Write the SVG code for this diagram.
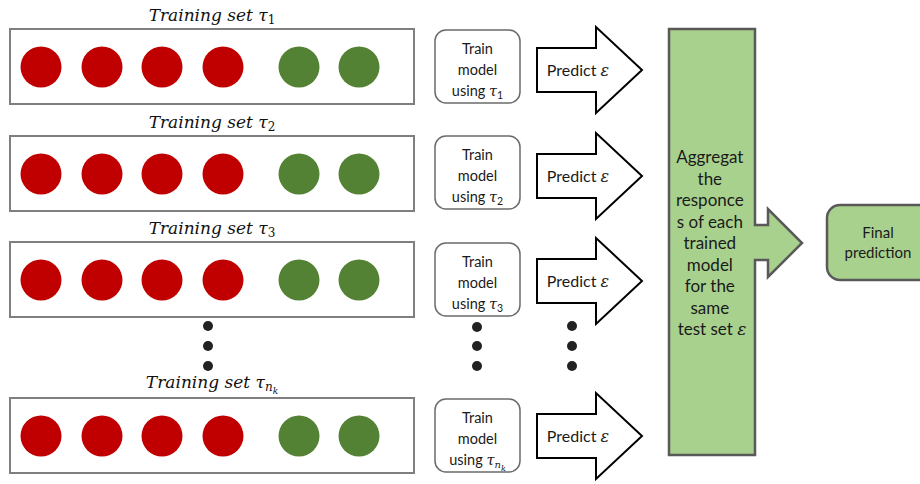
<svg xmlns="http://www.w3.org/2000/svg" width="920" height="484" viewBox="0 0 920 484">
  <style>
    .set { fill: #ffffff; stroke: #7f7f7f; stroke-width: 2; }
    .red { fill: #c00000; }
    .grn { fill: #548235; }
    .title { font-family: "DejaVu Serif", "Liberation Serif", serif; font-style: italic; font-size: 17px; fill: #111111; }
    .sub { font-style: normal; font-size: 12px; }
    .subi { font-style: italic; font-size: 12px; }
    .model { fill: #ffffff; stroke: #6b6b6b; stroke-width: 1.5; }
    .txt { font-family: Lato, "Noto Sans", sans-serif; fill: #1a1a1a; text-anchor: middle; }
    .math { font-family: "DejaVu Serif", "Liberation Serif", serif; font-style: italic; }
    .arrow { fill: #ffffff; stroke: #000000; stroke-width: 2; stroke-linejoin: miter; }
    .agg { fill: #a9d18e; stroke: #595959; stroke-width: 2.5; }
    .dot { fill: #222222; }
  </style>
  <defs>
    <g id="balls">
      <circle class="red" cx="41" cy="0" r="20.5"/>
      <circle class="red" cx="102" cy="0" r="20.5"/>
      <circle class="red" cx="162" cy="0" r="20.5"/>
      <circle class="red" cx="223" cy="0" r="20.5"/>
      <circle class="grn" cx="299" cy="0" r="20.5"/>
      <circle class="grn" cx="359" cy="0" r="20.5"/>
    </g>
    <path id="block" d="M537,-22 H596 V-43 L642,0 L596,43 V22 H537 Z"/>
  </defs>

  <!-- training sets -->
  <g id="set1">
    <text class="title" x="212" y="21" text-anchor="middle">Training set τ<tspan class="sub" dy="3">1</tspan></text>
    <rect class="set" x="10" y="29" width="404" height="75"/>
    <use href="#balls" y="67"/>
  </g>
  <g id="set2">
    <text class="title" x="212" y="128" text-anchor="middle">Training set τ<tspan class="sub" dy="3">2</tspan></text>
    <rect class="set" x="10" y="136" width="404" height="75"/>
    <use href="#balls" y="174"/>
  </g>
  <g id="set3">
    <text class="title" x="212" y="234" text-anchor="middle">Training set τ<tspan class="sub" dy="3">3</tspan></text>
    <rect class="set" x="10" y="242" width="404" height="75"/>
    <use href="#balls" y="280"/>
  </g>
  <g id="setnk">
    <text class="title" x="212" y="388" text-anchor="middle">Training set τ<tspan class="subi" dy="3">n</tspan><tspan class="subi" style="font-size:9px" dy="3">k</tspan></text>
    <rect class="set" x="10" y="398" width="404" height="75"/>
    <use href="#balls" y="436"/>
  </g>

  <!-- model training boxes -->
  <g id="model1">
    <rect class="model" x="435" y="30" width="85" height="73" rx="11"/>
    <text class="txt" font-size="14.5"><tspan x="477.5" y="54">Train</tspan><tspan x="477.5" y="75">model</tspan><tspan x="477.5" y="96">using <tspan class="math">τ</tspan><tspan font-size="10.5" dy="3">1</tspan></tspan></text>
  </g>
  <g id="model2">
    <rect class="model" x="435" y="136" width="85" height="73" rx="11"/>
    <text class="txt" font-size="14.5"><tspan x="477.5" y="160">Train</tspan><tspan x="477.5" y="181">model</tspan><tspan x="477.5" y="202">using <tspan class="math">τ</tspan><tspan font-size="10.5" dy="3">2</tspan></tspan></text>
  </g>
  <g id="model3">
    <rect class="model" x="435" y="243" width="85" height="73" rx="11"/>
    <text class="txt" font-size="14.5"><tspan x="477.5" y="267">Train</tspan><tspan x="477.5" y="288">model</tspan><tspan x="477.5" y="309">using <tspan class="math">τ</tspan><tspan font-size="10.5" dy="3">3</tspan></tspan></text>
  </g>
  <g id="modelnk">
    <rect class="model" x="435" y="399" width="85" height="73" rx="11"/>
    <text class="txt" font-size="14.5"><tspan x="477.5" y="423">Train</tspan><tspan x="477.5" y="444">model</tspan><tspan x="477.5" y="465">using <tspan class="math">τ</tspan><tspan class="math" font-size="10" dy="3">n</tspan><tspan class="math" font-size="8" dy="3">k</tspan></tspan></text>
  </g>

  <!-- vertical ellipses -->
  <g id="ellipsis">
    <circle class="dot" cx="208" cy="326" r="5"/>
    <circle class="dot" cx="208" cy="346" r="5"/>
    <circle class="dot" cx="208" cy="366" r="5"/>
    <circle class="dot" cx="477" cy="327" r="5"/>
    <circle class="dot" cx="477" cy="346" r="5"/>
    <circle class="dot" cx="477" cy="366" r="5"/>
    <circle class="dot" cx="572" cy="326" r="5"/>
    <circle class="dot" cx="572" cy="346" r="5"/>
    <circle class="dot" cx="572" cy="366" r="5"/>
  </g>

  <!-- prediction block arrows -->
  <g id="connectors">
    <g id="predict1">
      <use href="#block" class="arrow" y="70"/>
      <text class="txt" font-size="16" x="578" y="75.5">Predict <tspan class="math">ε</tspan></text>
    </g>
    <g id="predict2">
      <use href="#block" class="arrow" y="176"/>
      <text class="txt" font-size="16" x="578" y="181.5">Predict <tspan class="math">ε</tspan></text>
    </g>
    <g id="predict3">
      <use href="#block" class="arrow" y="281"/>
      <text class="txt" font-size="16" x="578" y="286.5">Predict <tspan class="math">ε</tspan></text>
    </g>
    <g id="predictnk">
      <use href="#block" class="arrow" y="436"/>
      <text class="txt" font-size="16" x="578" y="441.5">Predict <tspan class="math">ε</tspan></text>
    </g>
  </g>

  <!-- aggregation column with outgoing arrow -->
  <g id="aggregate">
    <path class="agg" d="M669,29 H755 V225 H768 V209 L802,243 L768,277 V260 H755 V455 H669 Z"/>
    <text class="txt" font-size="17">
      <tspan x="712" y="163">Aggregat</tspan>
      <tspan x="712" y="184.5">the</tspan>
      <tspan x="712" y="206">responce</tspan>
      <tspan x="712" y="227.5">s of each</tspan>
      <tspan x="712" y="249">trained</tspan>
      <tspan x="712" y="270.5">model</tspan>
      <tspan x="712" y="292">for the</tspan>
      <tspan x="712" y="313.5">same</tspan>
      <tspan x="712" y="335">test set <tspan class="math">ε</tspan></tspan>
    </text>
  </g>

  <g id="final">
    <rect class="agg" x="827" y="205" width="110" height="75" rx="13"/>
    <text class="txt" font-size="15"><tspan x="878" y="238">Final</tspan><tspan x="878" y="258">prediction</tspan></text>
  </g>
</svg>
